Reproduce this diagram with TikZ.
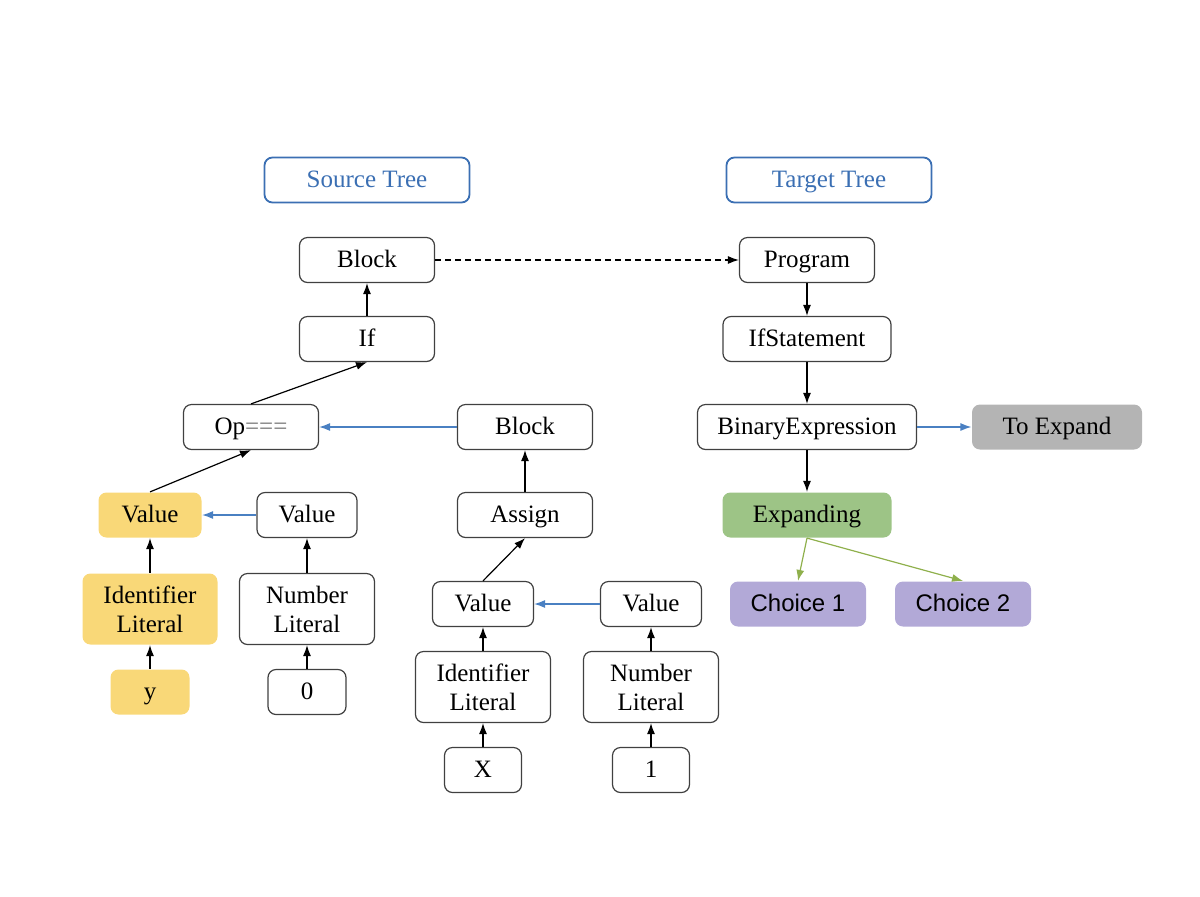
\documentclass[tikz,border=0pt]{standalone}
\usepackage{fontspec}
\setmainfont{Liberation Serif}
\newfontfamily\choicefont{Liberation Sans}
\usetikzlibrary{arrows.meta}
\definecolor{titleblue}{HTML}{3B6FB3}
\definecolor{arrowblue}{HTML}{4A80C2}
\definecolor{yel}{HTML}{F9D878}
\definecolor{grn}{HTML}{9DC486}
\definecolor{gry}{HTML}{B4B4B4}
\definecolor{pur}{HTML}{B2A9D7}
\definecolor{garrow}{HTML}{8FB04C}
\definecolor{eqgray}{HTML}{777777}
\begin{document}
\begin{tikzpicture}[x=0.5pt,y=-0.5pt,
  box/.style={draw=black!75, rounded corners=4pt, line width=0.6pt, minimum height=22.5pt, inner sep=0pt, align=center, text height=9.6pt, text depth=2pt, font=\fontsize{12.5}{14.5}\selectfont},
  tall/.style={minimum height=35.5pt, text height=, text depth=},
  title/.style={box, draw=titleblue, text=titleblue, line width=0.9pt, minimum width=102.5pt},
  yelbox/.style={box, draw=none, fill=yel},
  grnbox/.style={box, draw=none, fill=grn},
  grybox/.style={box, draw=none, fill=gry},
  purbox/.style={box, draw=none, fill=pur, font=\choicefont\fontsize{12}{14}\selectfont},
  arr/.style={-{Latex[length=5.5pt,width=4pt]}, line width=0.6pt, black},
  barr/.style={-{Latex[length=5.5pt,width=4pt]}, line width=0.6pt, arrowblue},
  garr/.style={-{Latex[length=5.5pt,width=4pt]}, line width=0.6pt, garrow},
  darr/.style={-{Latex[length=5.5pt,width=4pt]}, line width=0.6pt, dash pattern=on 3pt off 2pt, black}
]
\useasboundingbox (0,0) rectangle (1200,896);
% titles
\node[title] (src) at (367,180) {Source Tree};
\node[title] (tgt) at (829,180) {Target Tree};
% source tree
\node[box, minimum width=67.5pt] (block1) at (367,260) {Block};
\node[box, minimum width=67.5pt] (if) at (367,339) {If};
\node[box, minimum width=67.5pt] (op) at (251,427) {Op\textcolor{eqgray}{===}};
\node[box, minimum width=67.5pt] (block2) at (525,427) {Block};
\node[yelbox, minimum width=51.5pt] (val1) at (150,515) {Value};
\node[box, minimum width=50pt] (val2) at (307,515) {Value};
\node[box, minimum width=67.5pt] (assign) at (525,515) {Assign};
\node[yelbox, tall, minimum width=67.5pt] (id1) at (150,609) {Identifier\\Literal};
\node[box, tall, minimum width=67.5pt] (num1) at (307,609) {Number\\Literal};
\node[box, minimum width=50.5pt] (val3) at (483,604) {Value};
\node[box, minimum width=50.5pt] (val4) at (651,604) {Value};
\node[yelbox, minimum width=39.5pt] (y) at (150,692) {y};
\node[box, minimum width=39pt] (zero) at (307,692) {0};
\node[box, tall, minimum width=67.5pt] (id2) at (483,687) {Identifier\\Literal};
\node[box, tall, minimum width=67.5pt] (num2) at (651,687) {Number\\Literal};
\node[box, minimum width=38.5pt] (x) at (483,770) {X};
\node[box, minimum width=38.5pt] (one) at (651,770) {1};
% target tree
\node[box, minimum width=67.5pt] (prog) at (807,260) {Program};
\node[box, minimum width=84pt] (ifst) at (807,339) {IfStatement};
\node[box, minimum width=109.5pt] (binexp) at (807,427) {BinaryExpression};
\node[grybox, minimum width=85pt] (toexp) at (1057,427) {To Expand};
\node[grnbox, minimum width=84.5pt] (expd) at (807,515) {Expanding};
\node[purbox, minimum width=68pt] (ch1) at (798,604) {Choice 1};
\node[purbox, minimum width=68pt] (ch2) at (963,604) {Choice 2};
% source edges
\draw[arr] (if) -- (block1);
\draw[arr] (op.north) -- (if.south);
\draw[arr] (val1.north) -- (op.south);
\draw[arr] (id1) -- (val1);
\draw[arr] (y) -- (id1);
\draw[arr] (zero) -- (num1);
\draw[arr] (num1) -- (val2);
\draw[barr] (val2) -- (val1);
\draw[barr] (block2) -- (op);
\draw[arr] (assign) -- (block2);
\draw[arr] (val3.north) -- (assign.south);
\draw[arr] (id2) -- (val3);
\draw[arr] (x) -- (id2);
\draw[arr] (one) -- (num2);
\draw[arr] (num2) -- (val4);
\draw[barr] (val4) -- (val3);
% cross edge
\draw[darr] (block1) -- (prog);
% target edges
\draw[arr] (prog) -- (ifst);
\draw[arr] (ifst) -- (binexp);
\draw[arr] (binexp) -- (expd);
\draw[barr] (binexp) -- (toexp);
\draw[garr] (expd.south) -- (ch1.north);
\draw[garr] (expd.south) -- (ch2.north);
\end{tikzpicture}
\end{document}
